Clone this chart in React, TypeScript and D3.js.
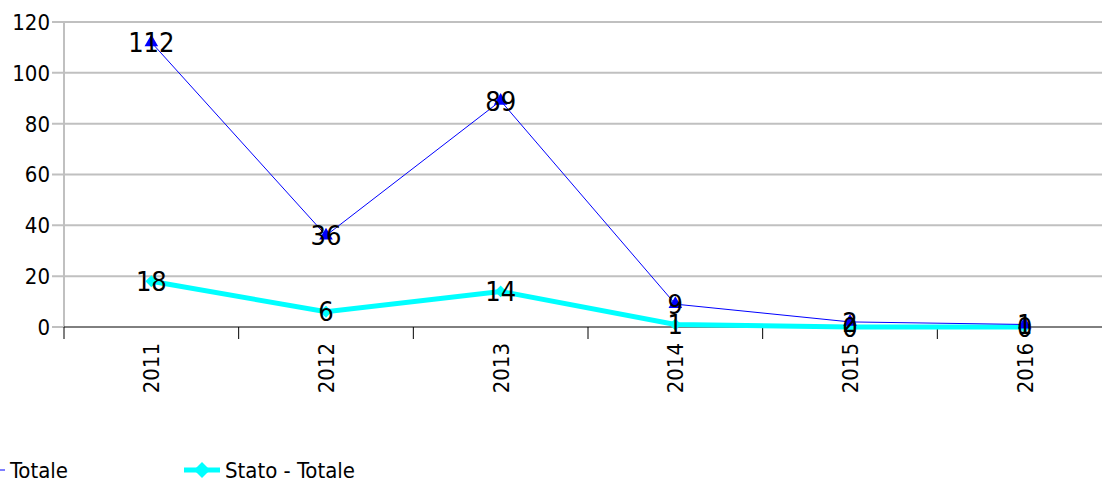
import { useRef, useEffect } from 'react'
import * as d3 from 'd3'

const years = ['2011', '2012', '2013', '2014', '2015', '2016']
const totale = [112, 36, 89, 9, 2, 1]
const statoTotale = [18, 6, 14, 1, 0, 0]
const yTicks = [0, 20, 40, 60, 80, 100, 120]

const W = 1102
const H = 483
const FONT = 'Tahoma, "DejaVu Sans Condensed", "DejaVu Sans", sans-serif'

export default function App() {
  const svgRef = useRef<SVGSVGElement | null>(null)

  useEffect(() => {
    if (!svgRef.current) return
    const svg = d3.select(svgRef.current)
    svg.selectAll('*').remove()

    const pad = { l: 64, r: -10, t: 22, b: 156 }
    const x = d3.scaleBand().domain(years).range([pad.l, W - pad.r]).padding(0)
    const y = d3.scaleLinear().domain([0, 120]).range([H - pad.b, pad.t])
    const cx = (d: string) => (x(d) as number) + x.bandwidth() / 2

    // grid
    svg.selectAll('.grid').data(yTicks.filter(t => t > 0)).join('line')
      .attr('x1', pad.l - 12).attr('x2', W)
      .attr('y1', d => y(d)).attr('y2', d => y(d))
      .attr('stroke', '#c0c0c0').attr('stroke-width', 2)
    svg.append('line').attr('x1', pad.l - 12).attr('x2', pad.l)
      .attr('y1', y(0)).attr('y2', y(0)).attr('stroke', '#c0c0c0').attr('stroke-width', 2)

    // y axis
    svg.append('line').attr('x1', pad.l).attr('x2', pad.l)
      .attr('y1', y(120)).attr('y2', y(0)).attr('stroke', '#c0c0c0').attr('stroke-width', 2)

    svg.selectAll('.ylab').data(yTicks).join('text')
      .attr('x', pad.l - 14).attr('y', d => y(d)).attr('dy', '0.36em')
      .attr('text-anchor', 'end').attr('font-size', 22).attr('font-family', FONT)
      .attr('fill', '#000').text(d => d)

    // x axis
    svg.append('line').attr('x1', pad.l).attr('x2', W)
      .attr('y1', y(0)).attr('y2', y(0)).attr('stroke', '#000').attr('stroke-width', 1)
    const edges = [...years.map(d => x(d) as number), x.range()[1]]
    svg.selectAll('.xtick').data(edges).join('line')
      .attr('x1', d => d).attr('x2', d => d)
      .attr('y1', y(0)).attr('y2', y(0) + 12)
      .attr('stroke', '#000').attr('stroke-width', 1)
    svg.selectAll('.xlab').data(years).join('text')
      .attr('transform', d => `translate(${cx(d)},${y(0) + 16}) rotate(-90)`)
      .attr('text-anchor', 'end').attr('dy', '0.36em')
      .attr('font-size', 22).attr('font-family', FONT).attr('fill', '#000')
      .text(d => d)

    // Stato - Totale (cyan)
    const line = d3.line<number>().x((_, i) => cx(years[i])).y(d => y(d))
    svg.append('path').datum(statoTotale).attr('d', line)
      .attr('fill', 'none').attr('stroke', '#00ffff').attr('stroke-width', 5)
    const diamond = d3.symbol().type(d3.symbolSquare).size(70)
    svg.selectAll('.dm').data(statoTotale).join('path')
      .attr('d', diamond)
      .attr('transform', (d, i) => `translate(${cx(years[i])},${y(d)}) rotate(45)`)
      .attr('fill', '#00ffff')

    // Totale (blue)
    svg.append('path').datum(totale).attr('d', line)
      .attr('fill', 'none').attr('stroke', '#0000ff').attr('stroke-width', 1)
    const tri = d3.symbol().type(d3.symbolTriangle).size(80)
    svg.selectAll('.tr').data(totale).join('path')
      .attr('d', tri)
      .attr('transform', (d, i) => `translate(${cx(years[i])},${y(d)})`)
      .attr('fill', '#0000ff')

    // data labels
    const labels = [
      ...totale.map((v, i) => ({ v, i })),
      ...statoTotale.map((v, i) => ({ v, i })),
    ]
    svg.selectAll('.dl').data(labels).join('text')
      .attr('x', d => cx(years[d.i])).attr('y', d => y(d.v)).attr('dy', '0.36em')
      .attr('text-anchor', 'middle').attr('font-size', 27).attr('font-family', FONT)
      .attr('fill', '#000').text(d => d.v)

    // legend
    const ly = 470
    svg.append('line').attr('x1', 0).attr('x2', 5).attr('y1', ly).attr('y2', ly)
      .attr('stroke', '#0000ff').attr('stroke-width', 1)
    svg.append('text').attr('x', 10).attr('y', ly).attr('dy', '0.36em')
      .attr('font-size', 22).attr('font-family', FONT).text('Totale')
    svg.append('line').attr('x1', 184).attr('x2', 220).attr('y1', ly).attr('y2', ly)
      .attr('stroke', '#00ffff').attr('stroke-width', 5)
    svg.append('path').attr('d', d3.symbol().type(d3.symbolSquare).size(130)())
      .attr('transform', `translate(202,${ly}) rotate(45)`).attr('fill', '#00ffff')
    svg.append('text').attr('x', 225).attr('y', ly).attr('dy', '0.36em')
      .attr('font-size', 22).attr('font-family', FONT).text('Stato - Totale')
  }, [])

  return (
    <svg ref={svgRef} width={W} height={H}
      style={{ position: 'absolute', left: 0, top: 0, background: '#fff' }} />
  )
}
